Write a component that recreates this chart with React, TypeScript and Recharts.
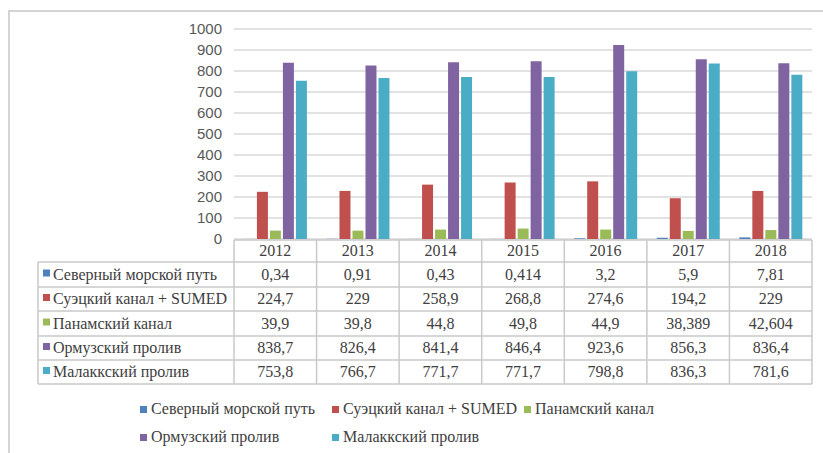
import React from "react";
import { BarChart, Bar, XAxis, YAxis, CartesianGrid, Legend } from "recharts";

const YEARS = ["2012", "2013", "2014", "2015", "2016", "2017", "2018"];
const NSR = [0.34, 0.91, 0.43, 0.414, 3.2, 5.9, 7.81];
const SUEZ = [224.7, 229, 258.9, 268.8, 274.6, 194.2, 229];
const PANAMA = [39.9, 39.8, 44.8, 49.8, 44.9, 38.389, 42.604];
const HORMUZ = [838.7, 826.4, 841.4, 846.4, 923.6, 856.3, 836.4];
const MALACCA = [753.8, 766.7, 771.7, 771.7, 798.8, 836.3, 781.6];
const Y_TICKS = [0, 100, 200, 300, 400, 500, 600, 700, 800, 900, 1000];

const SERIES = [
  { key: "nsr", name: "Северный морской путь", color: "#4F81BD", values: NSR },
  { key: "suez", name: "Суэцкий канал + SUMED", color: "#C0504D", values: SUEZ },
  { key: "panama", name: "Панамский канал", color: "#9BBB59", values: PANAMA },
  { key: "hormuz", name: "Ормузский пролив", color: "#8064A2", values: HORMUZ },
  { key: "malacca", name: "Малаккский пролив", color: "#4BACC6", values: MALACCA },
];

const data = YEARS.map((year, i) => {
  const row: Record<string, string | number> = { year };
  SERIES.forEach((s) => (row[s.key] = s.values[i]));
  return row;
});

// layout (px)
const W = 823;
const H = 453;
const PLOT_L = 234;
const PLOT_R = 812;
const PLOT_T = 29;
const PLOT_B = 239;
const Y_W = 60;
const TABLE_L = 38;
const ROWS_Y = [240, 262, 287, 311, 336, 360, 384];
const SERIF = "Liberation Serif, DejaVu Serif, serif";
const FS = 16;
const TEXT = "#404040";
const LINE = "#c9c9c9";

const fmt = (v: number) => String(v).replace(".", ",");

function DataTable() {
  const cw = (PLOT_R - PLOT_L) / YEARS.length;
  return (
    <svg width={W} height={H} style={{ position: "absolute", left: 0, top: 0, pointerEvents: "none", fontFamily: SERIF }}>
      {ROWS_Y.map((y, i) => (
        <line key={"h" + i} x1={i === 0 ? PLOT_L : TABLE_L} x2={PLOT_R} y1={y} y2={y} stroke={LINE} strokeWidth={1.5} />
      ))}
      <line x1={TABLE_L} x2={TABLE_L} y1={ROWS_Y[1]} y2={ROWS_Y[6]} stroke={LINE} strokeWidth={1.5} />
      {YEARS.map((_, i) => (
        <line key={"v" + i} x1={PLOT_L + i * cw} x2={PLOT_L + i * cw} y1={ROWS_Y[0]} y2={ROWS_Y[6]} stroke={LINE} strokeWidth={1.5} />
      ))}
      <line x1={PLOT_R} x2={PLOT_R} y1={ROWS_Y[0]} y2={ROWS_Y[6]} stroke={LINE} strokeWidth={1.5} />
      {YEARS.map((yr, i) => (
        <text key={"y" + i} x={PLOT_L + (i + 0.5) * cw} y={(ROWS_Y[0] + ROWS_Y[1]) / 2 + 5} textAnchor="middle" fontFamily={SERIF} fontSize={FS} fill={TEXT}>
          {yr}
        </text>
      ))}
      {SERIES.map((s, r) => {
        const cy = (ROWS_Y[r + 1] + ROWS_Y[r + 2]) / 2 + 5;
        return (
          <g key={s.key}>
            <rect x={43} y={cy - 10} width={7} height={7} fill={s.color} />
            <text x={53} y={cy} fontFamily={SERIF} fontSize={FS} fill={TEXT}>
              {s.name}
            </text>
            {s.values.map((v, i) => (
              <text key={i} x={PLOT_L + (i + 0.5) * cw} y={cy} textAnchor="middle" fontFamily={SERIF} fontSize={FS} fill={TEXT}>
                {fmt(v)}
              </text>
            ))}
          </g>
        );
      })}
    </svg>
  );
}

function LegendContent() {
  return (
    <div style={{ display: "flex", flexWrap: "wrap", width: 600, rowGap: 8 }}>
      {SERIES.map((s) => (
        <div key={s.key} style={{ width: 192, display: "flex", alignItems: "center", fontFamily: SERIF, fontSize: FS, color: TEXT, lineHeight: "20px", whiteSpace: "nowrap" }}>
          <span style={{ display: "inline-block", width: 7, height: 7, background: s.color, marginRight: 4 }} />
          {s.name}
        </div>
      ))}
    </div>
  );
}

export default function App() {
  return (
    <div style={{ position: "fixed", left: 0, top: 0, width: W, height: H, background: "#fff", overflow: "hidden" }}>
      <div style={{ position: "absolute", left: 8, top: 10, width: W, height: H, borderLeft: "2px solid #d4d4d4", borderTop: "2px solid #d4d4d4" }} />
      <div style={{ position: "absolute", left: 0, top: 0 }}>
        <BarChart
          width={W}
          height={H}
          data={data}
          margin={{ top: PLOT_T, right: W - PLOT_R, bottom: H - PLOT_B, left: PLOT_L - Y_W }}
          barGap={2}
          barCategoryGap="12%"
        >
          <CartesianGrid vertical={false} stroke="#d9d9d9" strokeWidth={1.5} />
          <XAxis dataKey="year" hide />
          <YAxis
            width={Y_W}
            domain={[0, 1000]}
            ticks={Y_TICKS}
            interval={0}
            axisLine={false}
            tickLine={false}
            tickMargin={6}
            tick={{ fill: "#595959", fontSize: 15, fontFamily: "Liberation Sans, Arial, sans-serif" }}
          />
          <Legend
            layout="horizontal"
            verticalAlign="middle"
            content={() => <LegendContent />}
            wrapperStyle={{ left: 140, top: 399, width: 600 }}
          />
          {SERIES.map((s) => (
            <Bar key={s.key} dataKey={s.key} name={s.name} fill={s.color} isAnimationActive={false} />
          ))}
        </BarChart>
      </div>
      <DataTable />
    </div>
  );
}
